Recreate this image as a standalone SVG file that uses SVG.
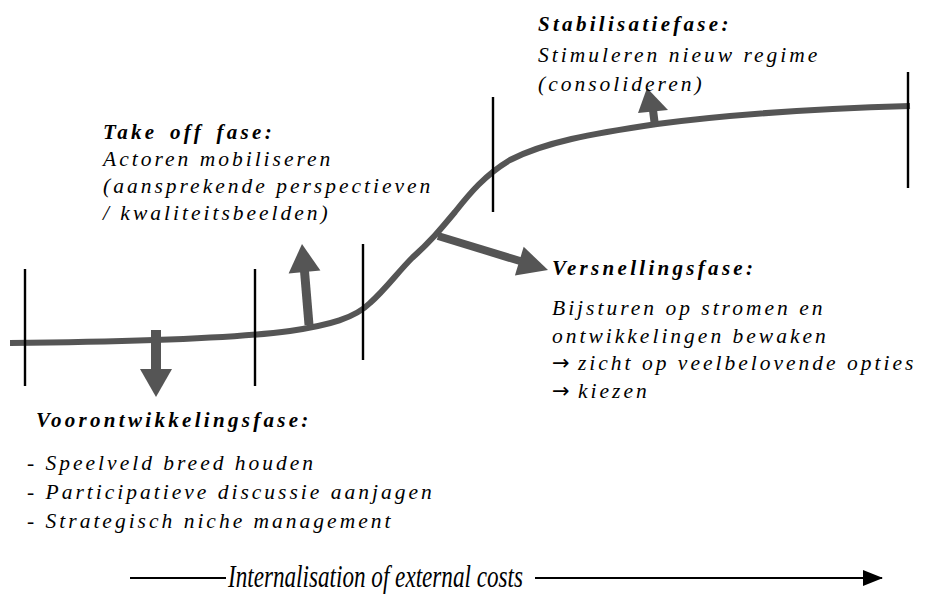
<svg xmlns="http://www.w3.org/2000/svg" width="925" height="594" viewBox="0 0 925 594">
  <style>
    .curve { fill: none; stroke: #555; stroke-width: 6; stroke-linecap: butt; }
    .tick { stroke: #000; stroke-width: 2.4; }
    .shaft { stroke: #555; fill: none; }
    .head { fill: #555; }
    text { font-family: "Liberation Serif", "Times New Roman", serif; fill: #000; }
    .title { font-size: 21px; font-style: italic; font-weight: bold; letter-spacing: 3.3px; word-spacing: 4px; }
    .body { font-size: 21.5px; font-style: italic; letter-spacing: 3px; }
    .sym { font-family: "DejaVu Sans", sans-serif; font-style: normal; font-size: 21px; letter-spacing: 0; }
    .axis { font-size: 31px; font-style: italic; }
    .axisline { stroke: #000; stroke-width: 2; fill: none; }
  </style>
  <defs>
    <marker id="axisHead" markerWidth="20" markerHeight="16" refX="19" refY="8" orient="auto" markerUnits="userSpaceOnUse" viewBox="0 0 20 16">
      <path d="M0,0 L20,8 L0,16 Z" fill="#000"/>
    </marker>
  </defs>
  <rect width="925" height="594" fill="#fff"/>

  <!-- S-shaped transition curve -->
  <g id="curve">
    <path class="curve" d="M10,343 C120,342 230,339 290,331 C330,325 355,318 370,303 C385,290 398,272 412,258 C430,242 440,230 455,212 C470,193 485,175 510,160 C545,142 590,134 657,124 C740,113 840,108 910,106"/>
  </g>

  <!-- phase boundaries -->
  <g id="boundaries">
    <line class="tick" x1="25" y1="269" x2="25" y2="386"/>
    <line class="tick" x1="255" y1="269" x2="255" y2="386"/>
    <line class="tick" x1="363" y1="244" x2="363" y2="360"/>
    <line class="tick" x1="493" y1="97" x2="493" y2="212"/>
    <line class="tick" x1="908" y1="72" x2="908" y2="188"/>
  </g>

  <!-- connectors from the curve to the phase texts -->
  <g id="connectors">
    <g id="arrow-voor">
      <line class="shaft" x1="156" y1="330" x2="156" y2="370" stroke-width="10"/>
      <polygon class="head" points="140,369 172,369 156,397"/>
    </g>
    <g id="arrow-takeoff">
      <line class="shaft" x1="309" y1="325" x2="304.5" y2="271" stroke-width="9"/>
      <polygon class="head" points="288.6,273.4 320.4,270.6 302,244"/>
    </g>
    <g id="arrow-versnelling">
      <line class="shaft" x1="438" y1="236" x2="520" y2="261" stroke-width="8"/>
      <polygon class="head" points="523.7,246.8 514.9,275.4 548,270"/>
    </g>
    <g id="arrow-stabilisatie">
      <line class="shaft" x1="655" y1="126" x2="653" y2="110" stroke-width="8"/>
      <polygon class="head" points="638,113 668,110 647,88"/>
    </g>
  </g>

  <g id="node-takeoff">
    <text class="title" x="103" y="139">Take off fase:</text>
    <text class="body" x="103" y="166">Actoren mobiliseren</text>
    <text class="body" x="103" y="193">(aansprekende perspectieven</text>
    <text class="body" x="103" y="220">/ kwaliteitsbeelden)</text>
  </g>

  <g id="node-stabilisatie">
    <text class="title" x="538" y="31">Stabilisatiefase:</text>
    <text class="body" x="538" y="62">Stimuleren nieuw regime</text>
    <text class="body" x="538" y="91">(consolideren)</text>
  </g>

  <g id="node-versnelling">
    <text class="title" x="552" y="275">Versnellingsfase:</text>
    <text class="body" x="552" y="315">Bijsturen op stromen en</text>
    <text class="body" x="552" y="343">ontwikkelingen bewaken</text>
    <text class="body" x="552" y="370"><tspan class="sym">→</tspan> zicht op veelbelovende opties</text>
    <text class="body" x="552" y="398"><tspan class="sym">→</tspan> kiezen</text>
  </g>

  <g id="node-voorontwikkeling">
    <text class="title" x="36" y="427">Voorontwikkelingsfase:</text>
    <text class="body" x="27" y="470">- Speelveld breed houden</text>
    <text class="body" x="27" y="499">- Participatieve discussie aanjagen</text>
    <text class="body" x="27" y="528">- Strategisch niche management</text>
  </g>

  <!-- horizontal axis -->
  <g id="axis">
    <line class="axisline" x1="130" y1="578" x2="226" y2="578"/>
    <text class="axis" x="228" y="587" textLength="295" lengthAdjust="spacingAndGlyphs">Internalisation of external costs</text>
    <line class="axisline" x1="535" y1="578" x2="882" y2="578" marker-end="url(#axisHead)"/>
  </g>
</svg>
